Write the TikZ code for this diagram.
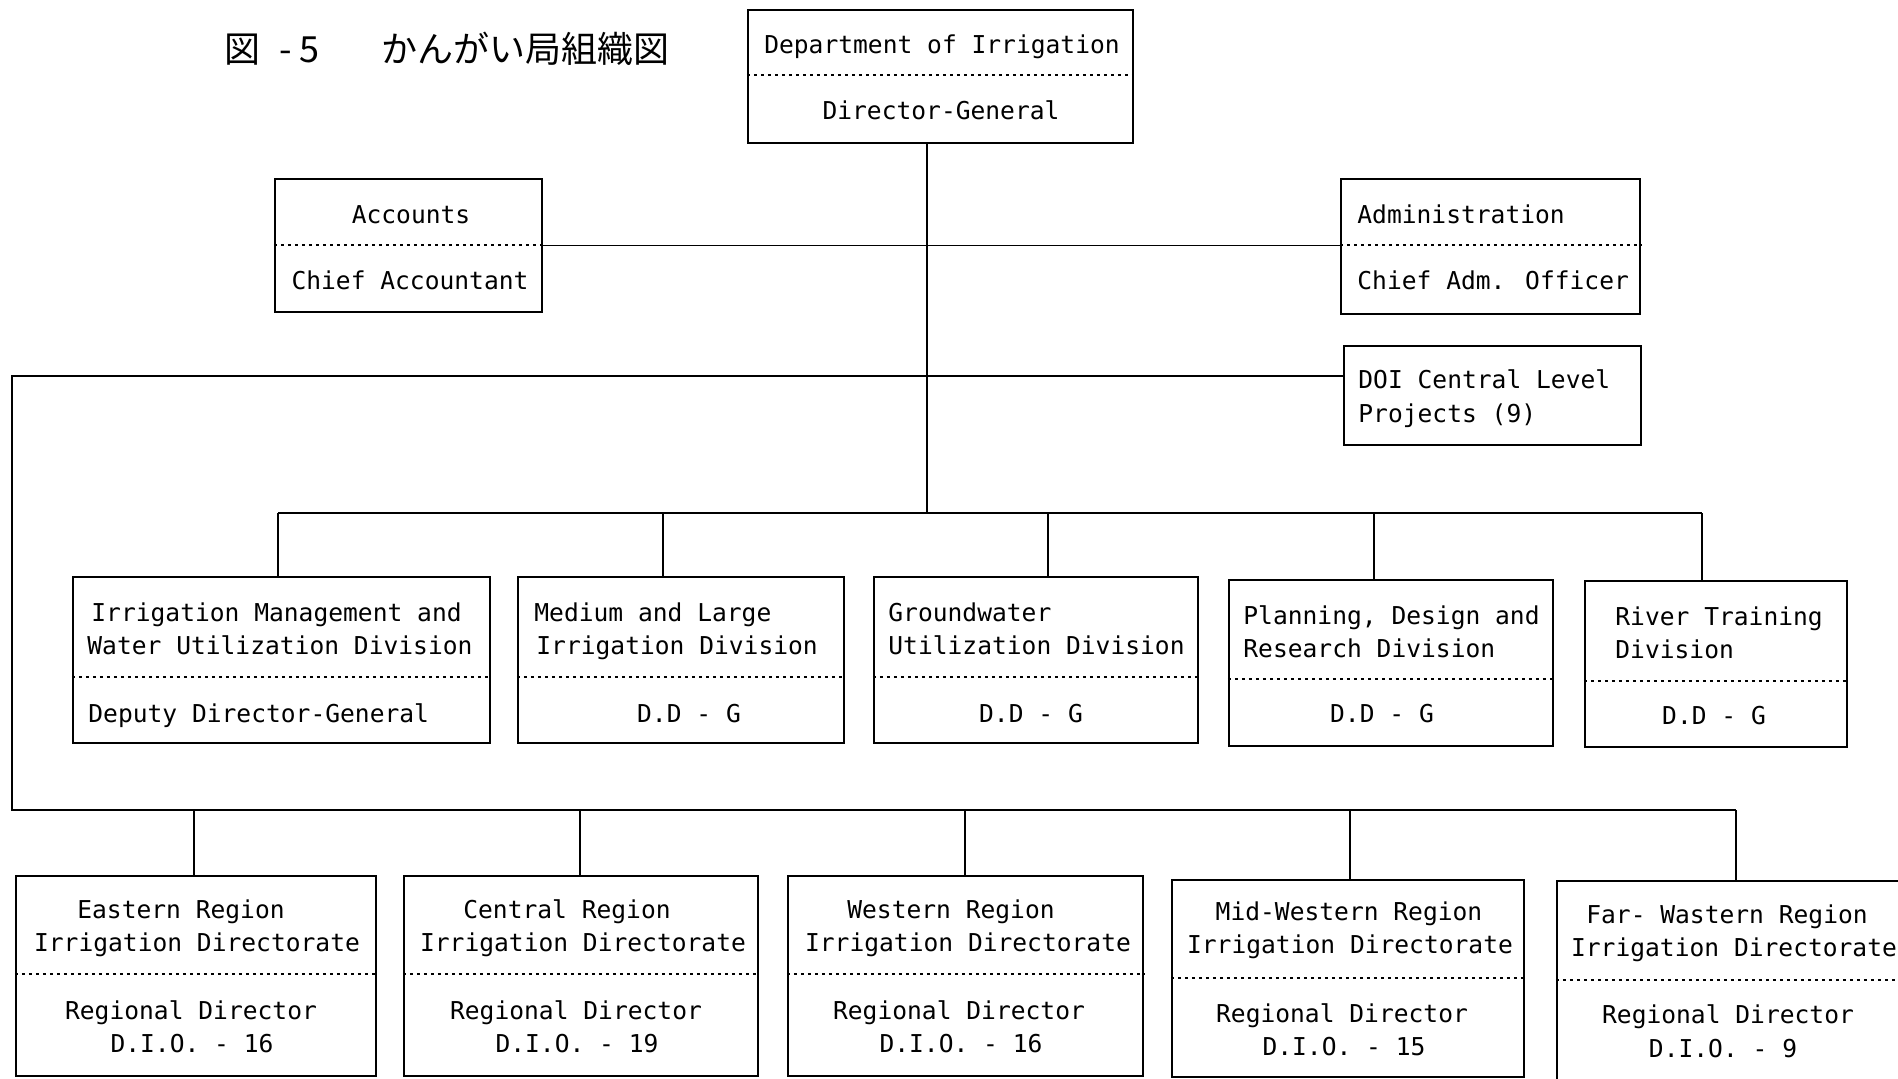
\documentclass[tikz,border=0pt]{standalone}
\usepackage{fontspec}
\setmainfont{DejaVu Sans Mono}
\newfontfamily\cjk{Noto Sans CJK JP}
\usetikzlibrary{fit}
\begin{document}
\begin{tikzpicture}[x=0.5pt,y=-0.5pt,
  box/.style={draw, line width=1.1pt, inner sep=0pt},
  wire/.style={line width=0.9pt},
  sep/.style={line width=1.3pt, dash pattern=on 1.3pt off 2.2pt},
  txt/.style={font=\fontsize{12.3}{14}\selectfont, inner sep=0pt, anchor=base},
  ltxt/.style={txt, anchor=base west},
  ttl/.style={font=\cjk\fontsize{18}{20}\selectfont, inner sep=0pt, anchor=base west}]
\fill[white] (0,0) rectangle (1898,1078);
\useasboundingbox (0,0) rectangle (1898,1078);

% title
\node[ttl] (title0) at (224,62) {図};
\node[ttl] (title1) at (279,62) {- 5};
\node[ttl] (title2) at (381,62) {かんがい局組織図};

% top box
\node[box, fit={(748,10) (1133,143)}] (doi) {};
\draw[sep] (doi.west |- 0,75) -- (doi.east |- 0,75);
\node[txt] (doi-a) at (942,53) {Department of Irrigation};
\node[txt] (doi-b) at (941,119) {Director-General};

% accounts
\node[box, fit={(275,179) (542,312)}] (acc) {};
\draw[sep] (acc.west |- 0,245) -- (acc.east |- 0,245);
\node[txt] (acc-a) at (411,223) {Accounts};
\node[txt] (acc-b) at (410,289) {Chief Accountant};

% administration
\node[box, fit={(1341,179) (1640,314)}] (adm) {};
\draw[sep] (adm.west |- 0,245) -- (adm.east |- 0,245);
\node[ltxt] (adm-a) at (1357,223) {Administration};
\node[ltxt] (adm-b) at (1357,289) {Chief Adm. Officer};

% projects
\node[box, fit={(1344,346) (1641,445)}] (proj) {};
\node[ltxt] (proj-a) at (1358,388) {DOI Central Level};
\node[ltxt] (proj-b) at (1358,422) {Projects (9)};

% divisions
\node[box, fit={(73,577) (490,743)}] (d1) {};
\draw[sep] (d1.west |- 0,677) -- (d1.east |- 0,677);
\node[ltxt] (d1-a) at (91,621) {Irrigation Management and};
\node[ltxt] (d1-b) at (87,654) {Water Utilization Division};
\node[ltxt] (d1-c) at (88,722) {Deputy Director-General};

\node[box, fit={(518,577) (844,743)}] (d2) {};
\draw[sep] (d2.west |- 0,677) -- (d2.east |- 0,677);
\node[ltxt] (d2-a) at (534,621) {Medium and Large};
\node[ltxt] (d2-b) at (536,654) {Irrigation Division};
\node[txt] (d2-c) at (689,722) {D.D - G};

\node[box, fit={(874,577) (1198,743)}] (d3) {};
\draw[sep] (d3.west |- 0,677) -- (d3.east |- 0,677);
\node[ltxt] (d3-a) at (888,621) {Groundwater};
\node[ltxt] (d3-b) at (888,654) {Utilization Division};
\node[txt] (d3-c) at (1031,722) {D.D - G};

\node[box, fit={(1229,580) (1553,746)}] (d4) {};
\draw[sep] (d4.west |- 0,679) -- (d4.east |- 0,679);
\node[ltxt] (d4-a) at (1243,624) {Planning, Design and};
\node[ltxt] (d4-b) at (1243,657) {Research Division};
\node[txt] (d4-c) at (1382,722) {D.D - G};

\node[box, fit={(1585,581) (1847,747)}] (d5) {};
\draw[sep] (d5.west |- 0,681) -- (d5.east |- 0,681);
\node[ltxt] (d5-a) at (1615,625) {River Training};
\node[ltxt] (d5-b) at (1615,658) {Division};
\node[txt] (d5-c) at (1714,724) {D.D - G};

% regions
\node[box, fit={(16,876) (376,1076)}] (r1) {};
\draw[sep] (r1.west |- 0,974) -- (r1.east |- 0,974);
\node[txt] (r1-a) at (181,918) {Eastern Region};
\node[txt] (r1-b) at (197,951) {Irrigation Directorate};
\node[txt] (r1-c) at (191,1019) {Regional Director};
\node[txt] (r1-d) at (192,1052) {D.I.O. - 16};

\node[box, fit={(404,876) (758,1076)}] (r2) {};
\draw[sep] (r2.west |- 0,974) -- (r2.east |- 0,974);
\node[txt] (r2-a) at (567,918) {Central Region};
\node[txt] (r2-b) at (583,951) {Irrigation Directorate};
\node[txt] (r2-c) at (576,1019) {Regional Director};
\node[txt] (r2-d) at (577,1052) {D.I.O. - 19};

\node[box, fit={(788,876) (1143,1076)}] (r3) {};
\draw[sep] (r3.west |- 0,974) -- (r3.east |- 0,974);
\node[txt] (r3-a) at (951,918) {Western Region};
\node[txt] (r3-b) at (968,951) {Irrigation Directorate};
\node[txt] (r3-c) at (959,1019) {Regional Director};
\node[txt] (r3-d) at (961,1052) {D.I.O. - 16};

\node[box, fit={(1172,880) (1524,1077)}] (r4) {};
\draw[sep] (r4.west |- 0,978) -- (r4.east |- 0,978);
\node[txt] (r4-a) at (1349,920) {Mid-Western Region};
\node[txt] (r4-b) at (1350,953) {Irrigation Directorate};
\node[txt] (r4-c) at (1342,1022) {Regional Director};
\node[txt] (r4-d) at (1344,1055) {D.I.O. - 15};

\node[box, fit={(1557,881) (1912,1080)}] (r5) {};
\draw[sep] (r5.west |- 0,980) -- (1898,980);
\node[txt] (r5-a) at (1727,923) {Far- Wastern Region};
\node[txt] (r5-b) at (1734,956) {Irrigation Directorate};
\node[txt] (r5-c) at (1728,1023) {Regional Director};
\node[txt] (r5-d) at (1723,1057) {D.I.O. - 9};

% connector coordinates
\coordinate (trunk) at (927,513);
\coordinate (j1) at (278,513);
\coordinate (j2) at (663,513);
\coordinate (j3) at (1048,513);
\coordinate (j4) at (1374,513);
\coordinate (j5) at (1702,513);
\coordinate (lc) at (12,376);
\coordinate (rb) at (12,810);
\coordinate (k1) at (194,810);
\coordinate (k2) at (580,810);
\coordinate (k3) at (965,810);
\coordinate (k4) at (1350,810);
\coordinate (k5) at (1736,810);

% connectors
\draw[wire] (doi.south -| trunk) -- (trunk);
\draw[wire] (acc.east) -- (acc.east -| adm.west);
\draw[wire] (j1) -- (j5);
\draw[wire] (j1) -- (j1 |- d1.north);
\draw[wire] (j2) -- (j2 |- d2.north);
\draw[wire] (j3) -- (j3 |- d3.north);
\draw[wire] (j4) -- (j4 |- d4.north);
\draw[wire] (j5) -- (j5 |- d5.north);
\draw[wire] (proj.west |- lc) -- (lc) -- (rb) -- (k5);
\draw[wire] (k1) -- (k1 |- r1.north);
\draw[wire] (k2) -- (k2 |- r2.north);
\draw[wire] (k3) -- (k3 |- r3.north);
\draw[wire] (k4) -- (k4 |- r4.north);
\draw[wire] (k5) -- (k5 |- r5.north);
\end{tikzpicture}
\end{document}
